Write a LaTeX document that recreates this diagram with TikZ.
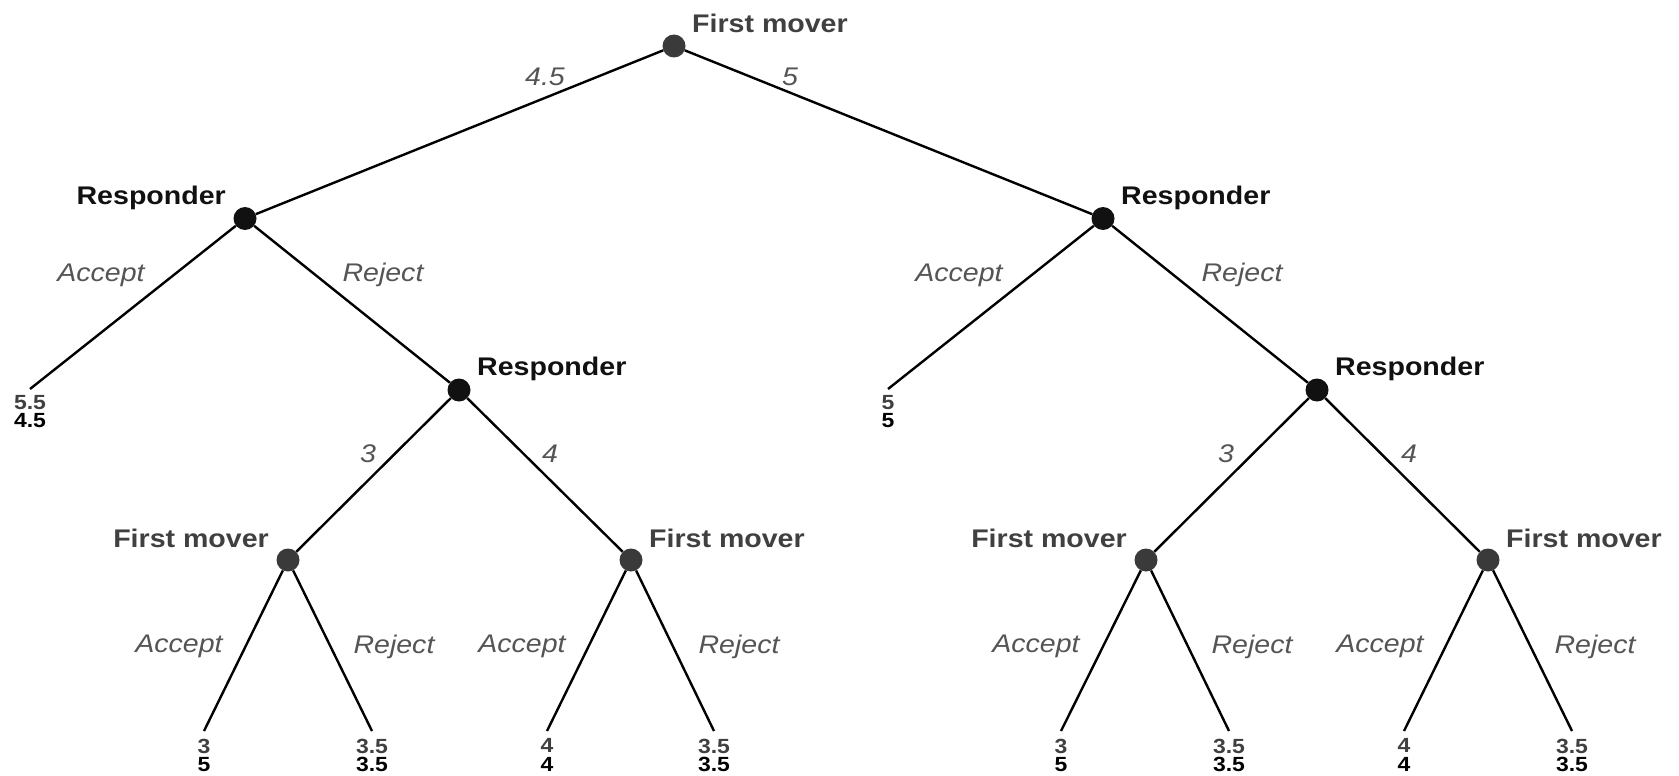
\documentclass[tikz,border=0pt]{standalone}
\usepackage{fontspec}
\setmainfont{Liberation Sans}[FakeStretch=1.12]
\usetikzlibrary{calc}
\definecolor{fmgray}{HTML}{3A3A3A}
\definecolor{lblgray}{HTML}{404040}
\definecolor{edgegray}{HTML}{555555}
\definecolor{rsblack}{HTML}{111111}
\tikzset{
  fmnode/.style={circle,fill=fmgray,minimum size=23pt,inner sep=0pt},
  rsnode/.style={circle,fill=rsblack,minimum size=23pt,inner sep=0pt},
  edge/.style={line width=2.4pt,black},
  nlab/.style={inner sep=0pt,font=\bfseries\fontsize{25.5}{30}\selectfont},
  fmlab/.style={nlab,text=lblgray},
  rslab/.style={nlab,text=rsblack},
  elab/.style={inner sep=0pt,text=edgegray,font=\itshape\fontsize{25.5}{30}\selectfont},
  payoff/.style={inner sep=0pt,anchor=north,align=center,font=\bfseries\fontsize{20.5}{18.5}\selectfont},
}
\newcommand{\pay}[2]{\textcolor{lblgray}{#1}\\\textcolor{black}{#2}}
\begin{document}
\begin{tikzpicture}[x=1pt,y=-1pt]
\fill[white] (0,0) rectangle (1679,776);
\useasboundingbox (0,0) rectangle (1679,776);
% nodes
\node[fmnode] (root) at (674,46) {};
\node[rsnode] (rL) at (245,218.5) {};
\node[rsnode] (rR) at (1103,218.5) {};
\node[rsnode] (rLL) at (459,390) {};
\node[rsnode] (rRR) at (1317,390) {};
\node[fmnode] (f1) at (288,560) {};
\node[fmnode] (f2) at (631,560) {};
\node[fmnode] (f3) at (1146,560) {};
\node[fmnode] (f4) at (1488,560) {};
% leaves
\coordinate (a1) at (30,389);
\coordinate (a2) at (888,389);
\coordinate (b1) at (204,731);
\coordinate (b2) at (372,731);
\coordinate (b3) at (547,731);
\coordinate (b4) at (714,731);
\coordinate (b5) at (1061,731);
\coordinate (b6) at (1229,731);
\coordinate (b7) at (1404,731);
\coordinate (b8) at (1572,731);
% edges
\draw[edge] (root) -- (rL);
\draw[edge] (root) -- (rR);
\draw[edge] (rL) -- (a1);
\draw[edge] (rL) -- (rLL);
\draw[edge] (rR) -- (a2);
\draw[edge] (rR) -- (rRR);
\draw[edge] (rLL) -- (f1);
\draw[edge] (rLL) -- (f2);
\draw[edge] (rRR) -- (f3);
\draw[edge] (rRR) -- (f4);
\draw[edge] (f1) -- (b1);
\draw[edge] (f1) -- (b2);
\draw[edge] (f2) -- (b3);
\draw[edge] (f2) -- (b4);
\draw[edge] (f3) -- (b5);
\draw[edge] (f3) -- (b6);
\draw[edge] (f4) -- (b7);
\draw[edge] (f4) -- (b8);
% node labels
\node[fmlab,anchor=base west] (lroot) at ($(root)+(18,-13)$) {First mover};
\node[rslab,anchor=base east] (lrL) at ($(rL)+(-19,-14.5)$) {Responder};
\node[rslab,anchor=base west] (lrR) at ($(rR)+(18,-14.5)$) {Responder};
\node[rslab,anchor=base west] (lrLL) at ($(rLL)+(18,-14.5)$) {Responder};
\node[rslab,anchor=base west] (lrRR) at ($(rRR)+(18,-14.5)$) {Responder};
\node[fmlab,anchor=base east] (lf1) at ($(f1)+(-19,-13)$) {First mover};
\node[fmlab,anchor=base west] (lf2) at ($(f2)+(18,-13)$) {First mover};
\node[fmlab,anchor=base east] (lf3) at ($(f3)+(-19,-13)$) {First mover};
\node[fmlab,anchor=base west] (lf4) at ($(f4)+(18,-13)$) {First mover};
% edge labels
\node[elab] (e1) at (545,77) {4.5};
\node[elab] (e2) at (790,77) {5};
\node[elab] (e3) at (101,275) {Accept};
\node[elab] (e4) at (383,275) {Reject};
\node[elab] (e5) at (959,275) {Accept};
\node[elab] (e6) at (1242,275) {Reject};
\node[elab] (e7) at (368,454) {3};
\node[elab] (e8) at (550,454) {4};
\node[elab] (e9) at (1226,454) {3};
\node[elab] (e10) at (1409,454) {4};
\node[elab] (e11) at (179,646.5) {Accept};
\node[elab] (e12) at (394,646.5) {Reject};
\node[elab] (e13) at (522,646.5) {Accept};
\node[elab] (e14) at (739,646.5) {Reject};
\node[elab] (e15) at (1036,646.5) {Accept};
\node[elab] (e16) at (1252,646.5) {Reject};
\node[elab] (e17) at (1380,646.5) {Accept};
\node[elab] (e18) at (1595,646.5) {Reject};
% payoffs
\node[payoff] (p1) at ($(a1)+(0,6)$) {\pay{5.5}{4.5}};
\node[payoff] (p2) at ($(a2)+(0,6)$) {\pay{5}{5}};
\node[payoff] (p3) at ($(b1)+(0,7.5)$) {\pay{3}{5}};
\node[payoff] (p4) at ($(b2)+(0,7.5)$) {\pay{3.5}{3.5}};
\node[payoff] (p5) at ($(b3)+(0,7.5)$) {\pay{4}{4}};
\node[payoff] (p6) at ($(b4)+(0,7.5)$) {\pay{3.5}{3.5}};
\node[payoff] (p7) at ($(b5)+(0,7.5)$) {\pay{3}{5}};
\node[payoff] (p8) at ($(b6)+(0,7.5)$) {\pay{3.5}{3.5}};
\node[payoff] (p9) at ($(b7)+(0,7.5)$) {\pay{4}{4}};
\node[payoff] (p10) at ($(b8)+(0,7.5)$) {\pay{3.5}{3.5}};
\end{tikzpicture}
\end{document}
